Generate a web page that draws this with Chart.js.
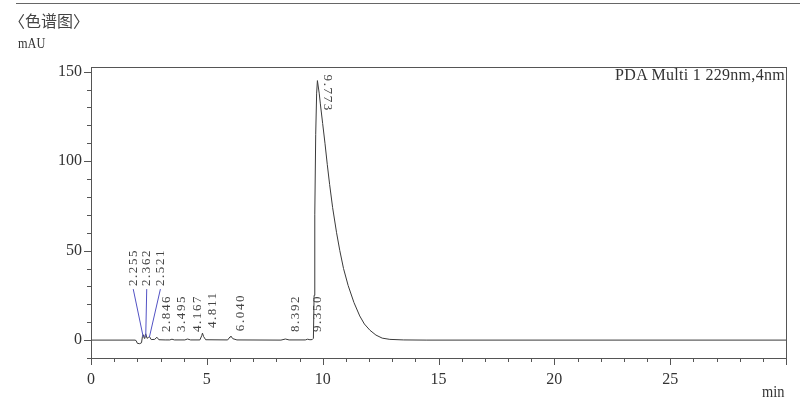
<!DOCTYPE html>
<html>
<head>
<meta charset="utf-8">
<script src="https://cdn.jsdelivr.net/npm/chart.js@4.4.1/dist/chart.umd.min.js"></script>
<style>
    html, body { margin: 0; padding: 0; background: #fff; }
    #wrap { position: relative; width: 800px; height: 402px; overflow: hidden; }
    #chart { position: absolute; left: 0; top: 0; }
    .rule { position: absolute; left: 16px; right: 0; top: 3px; border-top: 1px solid #666; }
    .txt { position: absolute; color: #333; font-family: "Liberation Serif", serif; white-space: nowrap; line-height: 1; }
    #title { left: 9px; top: 12px; font-size: 16px; font-family: "Noto Sans CJK SC", sans-serif; color: #444; }
    #unitY { left: 18px; top: 36px; font-size: 15px; transform: scaleX(0.82); transform-origin: left; }
    #unitX { left: 762px; top: 384px; font-size: 16px; transform: scaleX(0.9); transform-origin: left; }
    #legend { right: 15px; top: 67px; font-size: 16px; letter-spacing: 0.3px; }
</style>
</head>
<body>
<div id="wrap">
    <canvas id="chart" width="800" height="402"></canvas>
    <div class="rule"></div>
    <div class="txt" id="title">〈色谱图〉</div>
    <div class="txt" id="unitY">mAU</div>
    <div class="txt" id="unitX">min</div>
    <div class="txt" id="legend">PDA Multi 1 229nm,4nm</div>
</div>
<script>
// Chromatogram trace (min, mAU)
const timeMin = [
    0, 1.9, 1.95, 2.0, 2.1, 2.18, 2.22, 2.255, 2.3, 2.33, 2.362, 2.42, 2.48, 2.521, 2.6,
    2.75, 2.846, 2.93, 3.2, 3.4, 3.495, 3.6, 4.05, 4.167, 4.3, 4.7, 4.78, 4.811, 4.86, 4.95,
    5.9, 6.0, 6.04, 6.12, 6.3, 8.2, 8.392, 8.55, 9.25, 9.35, 9.45, 9.55, 9.6, 9.63, 9.66,
    9.7, 9.74, 9.773, 9.85, 9.9, 10.0, 10.1, 10.2, 10.3, 10.43, 10.6, 10.74, 10.9, 11.1,
    11.35, 11.6, 11.8, 12.04, 12.3, 12.57, 12.9, 13.5, 14.5, 30
];
const signalMAU = [
    0, 0, -0.3, -1.8, -2.0, -1.5, 2.0, 3.0, 1.0, 2.5, 3.5, 1.0, 1.5, 2.0, 0.3,
    0.4, 1.6, 0.2, 0.1, 0.1, 0.5, 0.1, 0.1, 0.6, 0.1, 0.1, 2.5, 3.9, 2.0, 0.2,
    0.1, 1.8, 2.2, 0.8, 0.1, 0, 0.6, 0.1, 0.1, 0.5, 0.2, 0.3, 1.0, 25, 70,
    115, 138, 145, 138, 132, 121, 110, 98, 87, 74, 60, 50, 40, 30.5,
    21, 13.5, 9, 5.5, 2.8, 1.1, 0.4, 0.1, 0, 0
];

// Labelled peaks
const peakTimes = [2.255, 2.362, 2.521, 2.846, 3.495, 4.167, 4.811, 6.040, 8.392, 9.350, 9.773];
const peakLabels = ['2.255', '2.362', '2.521', '2.846', '3.495', '4.167', '4.811', '6.040', '8.392', '9.350', '9.773'];

// Axes
const xTickValues = [0, 5, 10, 15, 20, 25];
const yTickValues = [0, 50, 100, 150];

const AXIS_COLOR = '#555';
const TEXT_COLOR = '#333';

// Frame round the plot + major/minor tick marks
const framePlugin = {
    id: 'frame',
    afterDraw(chart) {
        const { ctx, chartArea: a, scales: { x, y } } = chart;
        ctx.save();
        ctx.strokeStyle = AXIS_COLOR;
        ctx.lineWidth = 1;
        ctx.strokeRect(a.left + 0.5, a.top + 0.5, a.right - a.left, a.bottom - a.top);

        ctx.beginPath();
        for (let v = 0; v <= x.max; v += 1) {
            const px = Math.round(x.getPixelForValue(v)) + 0.5;
            const len = v % 5 === 0 ? 7 : 4;
            ctx.moveTo(px, a.bottom);
            ctx.lineTo(px, a.bottom + len);
        }
        for (let v = -10; v <= y.max; v += 10) {
            const py = Math.round(y.getPixelForValue(v)) + 0.5;
            const len = v % 50 === 0 ? 7 : 4;
            ctx.moveTo(a.left, py);
            ctx.lineTo(a.left - len, py);
        }
        ctx.stroke();
        ctx.restore();
    }
};

// Retention time labels, rotated, with leader lines for the crowded cluster
const peakLabelPlugin = {
    id: 'peakLabels',
    afterDatasetsDraw(chart) {
        const { ctx, scales: { x, y } } = chart;
        const y0 = y.getPixelForValue(0);
        const clusterShift = { '2.255': -10, '2.362': 1, '2.521': 11 };
        ctx.save();
        ctx.font = '13px "Liberation Serif"';
        ctx.letterSpacing = '1.6px';
        ctx.fillStyle = '#444';
        ctx.textBaseline = 'middle';
        ctx.textAlign = 'left';

        peakTimes.forEach((t, i) => {
            const label = peakLabels[i];
            const px = x.getPixelForValue(t);
            const peakVal = signalMAU[timeMin.indexOf(t)];
            const py = y.getPixelForValue(peakVal);

            if (i === peakTimes.length - 1) {
                // main peak: text reads downward
                ctx.save();
                ctx.translate(px + 10, py - 6);
                ctx.rotate(Math.PI / 2);
                ctx.fillText(label, 0, 0);
                ctx.restore();
                return;
            }

            if (label in clusterShift) {
                const lx = px + clusterShift[label];
                const bottom = y0 - 54;
                ctx.save();
                ctx.strokeStyle = '#5252c4';
                ctx.lineWidth = 1;
                ctx.beginPath();
                ctx.moveTo(lx, bottom + 3);
                ctx.lineTo(px, y0 - 3);
                ctx.stroke();
                ctx.translate(lx, bottom);
                ctx.rotate(-Math.PI / 2);
                ctx.fillText(label, 0, 0);
                ctx.restore();
                return;
            }

            const bottom = Math.min(y0 - 8, py - 5);
            ctx.save();
            ctx.translate(px + 10, bottom);
            ctx.rotate(-Math.PI / 2);
            ctx.fillText(label, 0, 0);
            ctx.restore();
        });
        ctx.restore();
    }
};

const tickFont = { family: '"Liberation Serif", serif', size: 16 };

new Chart(document.getElementById('chart'), {
    type: 'line',
    data: {
        datasets: [{
            data: timeMin.map((t, i) => ({ x: t, y: signalMAU[i] })),
            borderColor: '#3a3a3a',
            borderWidth: 1,
            pointRadius: 0,
            tension: 0,
            fill: false
        }]
    },
    options: {
        responsive: false,
        animation: false,
        events: [],
        layout: { padding: { top: 67, right: 14, left: 0, bottom: 0 } },
        plugins: {
            legend: { display: false },
            tooltip: { enabled: false }
        },
        scales: {
            x: {
                type: 'linear',
                min: 0,
                max: 30,
                afterBuildTicks: (scale) => { scale.ticks = xTickValues.map(v => ({ value: v })); },
                afterFit: (scale) => { scale.height = 44; },
                grid: { display: false, drawTicks: false },
                border: { display: false },
                ticks: { color: TEXT_COLOR, font: tickFont, padding: 12, maxRotation: 0, autoSkip: false }
            },
            y: {
                min: -10,
                max: 152.6,
                afterBuildTicks: (scale) => { scale.ticks = yTickValues.map(v => ({ value: v })); },
                afterFit: (scale) => { scale.width = 91; },
                grid: { display: false, drawTicks: false },
                border: { display: false },
                ticks: { color: TEXT_COLOR, font: tickFont, padding: 9 }
            }
        }
    },
    plugins: [framePlugin, peakLabelPlugin]
});
</script>
</body>
</html>
